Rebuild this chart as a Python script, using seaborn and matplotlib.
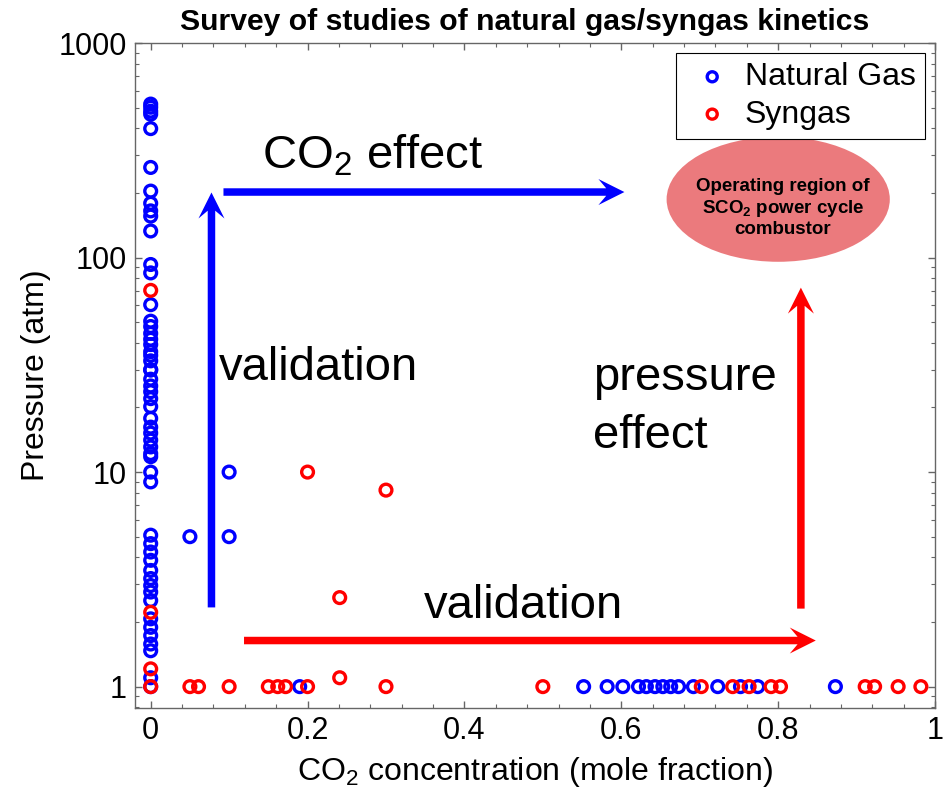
import numpy as np
import pandas as pd
import matplotlib
matplotlib.use("Agg")
import matplotlib.pyplot as plt
from matplotlib.patches import Ellipse, FancyArrow
from matplotlib.transforms import IdentityTransform
from matplotlib.ticker import AutoMinorLocator, LogLocator, FixedLocator, NullFormatter
import seaborn as sns

# ---------------- data ----------------
ng_co2 = [0.0] * 54 + [0.05, 0.10, 0.10, 0.19,
          0.552, 0.582, 0.602, 0.622, 0.632, 0.643, 0.653, 0.663, 0.673,
          0.692, 0.723, 0.752, 0.774, 0.873]
ng_pressure = [519, 502, 481, 466, 399, 263, 204, 179, 165, 156, 133, 92.8, 84.8,
               60.3, 50.5, 47.7, 44.3, 41.6, 39.3, 36.4, 33.0, 29.9, 27.1, 25.2, 23.7,
               20.2, 17.8, 16.2, 15.2, 14.1, 13.1, 12.2, 11.8, 10.0, 9.0,
               5.08, 4.64, 4.24, 3.88, 3.48, 3.19, 2.96, 2.76, 2.52,
               2.07, 1.89, 1.73, 1.58, 1.47, 1.10, 1.0,
               22.0, 30.0, 35.0] + [5.0, 10.0, 5.0, 1.0,
               1.0, 1.0, 1.0, 1.0, 1.0, 1.0, 1.0, 1.0, 1.0,
               1.0, 1.0, 1.0, 1.0, 1.0]

sg_co2 = [0.0, 0.0, 0.0, 0.0,
          0.05, 0.061, 0.10, 0.15, 0.162, 0.172, 0.20, 0.241, 0.30, 0.50,
          0.702, 0.742, 0.763, 0.791, 0.803, 0.911, 0.923, 0.953, 0.982,
          0.20, 0.30, 0.241]
sg_pressure = [70.3, 2.22, 1.21, 1.0,
               1.0, 1.0, 1.0, 1.0, 1.0, 1.0, 1.0, 1.1, 1.0, 1.0,
               1.0, 1.0, 1.0, 1.0, 1.0, 1.0, 1.0, 1.0, 1.0,
               10.0, 8.24, 2.6]

series_names = ["Natural Gas", "Syngas"]
series_colors = ["#0000FF", "#FF0000"]

y_ticks = [1, 10, 100, 1000]
y_ticklabels = ["1", "10", "100", "1000"]
x_ticks = [0, 0.2, 0.4, 0.6, 0.8, 1]
x_ticklabels = ["0", "0.2", "0.4", "0.6", "0.8", "1"]

# arrows: (x0, y0, x1, y1) in data units, colour
arrow_specs = [((0.0775, 2.34), (0.0775, 201), "#0000FF"),
               ((0.0928, 202), (0.604, 202), "#0000FF"),
               ((0.829, 2.31), (0.829, 72.4), "#FF0000"),
               ((0.119, 1.64), (0.848, 1.64), "#FF0000")]

title = "Survey of studies of natural gas/syngas kinetics"
xlabel = r"CO$_\mathrm{2}$ concentration (mole fraction)"
ylabel = "Pressure (atm)"

# ---------------- style ----------------
sns.set_style("ticks")
plt.rcParams["font.family"] = ["Liberation Sans", "DejaVu Sans"]
plt.rcParams["mathtext.fontset"] = "custom"
plt.rcParams["mathtext.rm"] = "Liberation Sans"
plt.rcParams["mathtext.it"] = "Liberation Sans:italic"
plt.rcParams["mathtext.bf"] = "Liberation Sans:bold"
plt.rcParams["text.color"] = "black"
plt.rcParams["axes.labelcolor"] = "black"

fig = plt.figure(figsize=(9.47, 7.97), dpi=100)
ax = fig.add_axes([135 / 947, 1 - 708 / 797, 800 / 947, 665 / 797])

df_ng = pd.DataFrame({"co2": ng_co2, "p": ng_pressure})
df_sg = pd.DataFrame({"co2": sg_co2, "p": sg_pressure})

for d, name, col in [(df_ng, series_names[0], series_colors[0]),
                     (df_sg, series_names[1], series_colors[1])]:
    sns.scatterplot(data=d, x="co2", y="p", ax=ax, s=72, marker="o",
                    color=col, facecolors="none", edgecolor=col,
                    linewidth=2.4, label=name, zorder=3)

ax.set_yscale("log")
ax.set_xlim(-0.02, 1.0)
ax.set_ylim(0.795, 1000)

ax.set_xticks(x_ticks)
ax.set_xticklabels(x_ticklabels)
ax.xaxis.set_minor_locator(AutoMinorLocator(5))
ax.yaxis.set_major_locator(FixedLocator(y_ticks))
ax.set_yticklabels(y_ticklabels)
ax.yaxis.set_minor_locator(LogLocator(base=10, subs=np.arange(2, 10)))
ax.yaxis.set_minor_formatter(NullFormatter())

spine_col = "#666666"
for s in ax.spines.values():
    s.set_color(spine_col)
    s.set_linewidth(1.0)
ax.tick_params(which="both", direction="in", top=True, right=True,
               color=spine_col, labelsize=22, labelcolor="black")
ax.tick_params(which="major", length=5, width=1.0, pad=6)
ax.tick_params(which="minor", length=3, width=0.8)

ax.set_xlabel(xlabel, fontsize=23, labelpad=6, color="black")
ax.set_ylabel(ylabel, fontsize=23, labelpad=5, color="black")
ax.set_title(title, fontsize=21.7, fontweight="bold", pad=9, color="black", x=0.4875)

# ellipse
ell = Ellipse((0.804, 0.765), 0.279, 0.188, transform=ax.transAxes,
              facecolor="#EB7A7D", edgecolor="none", zorder=1)
ax.add_patch(ell)
ax.text(0.81, 0.752, "Operating region of\nSCO$_\\mathbf{2}$ power cycle\ncombustor",
        transform=ax.transAxes, ha="center", va="center", multialignment="center",
        fontsize=13.5, fontweight="bold", linespacing=1.15, zorder=2)

# arrows (stealth-like heads), positions from data coordinates
for (p0, p1, col) in arrow_specs:
    d0 = ax.transData.transform(p0)
    d1 = ax.transData.transform(p1)
    dx, dy = d1 - d0
    arr = FancyArrow(d0[0], d0[1], dx, dy, width=7.5, head_width=26,
                     head_length=26, overhang=0.3, length_includes_head=True,
                     transform=IdentityTransform(), color=col, lw=0,
                     clip_on=False, zorder=2)
    ax.add_patch(arr)

tk = dict(fontsize=34, va="baseline", ha="left", color="black", zorder=4)
ax.text(0.1424, 261, r"CO$_\mathrm{2}$ effect", **tk)
ax.text(0.0865, 26.9, "validation", **tk)
ax.text(0.5645, 24.1, "pressure", **tk)
ax.text(0.5645, 12.9, "effect", **tk)
ax.text(0.348, 2.09, "validation", **tk)

leg = ax.legend(loc="upper right", fontsize=23, frameon=True, fancybox=False,
                edgecolor="black", framealpha=1, borderaxespad=0.3,
                handlelength=1.65, handletextpad=0.2, borderpad=0.3,
                labelspacing=0.23, markerscale=0.85)
leg.get_frame().set_linewidth(0.8)
leg.set_zorder(5)
for t in leg.get_texts():
    t.set_color("black")

fig.savefig("out.png", dpi=100)
